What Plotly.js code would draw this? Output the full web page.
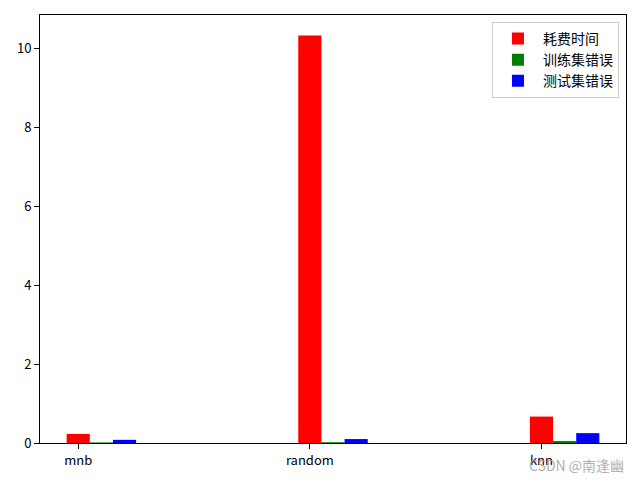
<!DOCTYPE html>
<html>
<head>
<meta charset="utf-8">
<script src="https://cdn.plot.ly/plotly-3.0.1.min.js"></script>
<style>html,body{margin:0;padding:0;background:#fff;}#chart{width:640px;height:480px;}</style>
</head>
<body>
<div id="chart"></div>
<script>
const categories = ['mnb', 'random', 'knn'];
const timeCost = [0.23, 10.33, 0.67];
const trainError = [0.015, 0.02, 0.05];
const testError = [0.08, 0.10, 0.25];
const seriesNames = ['耗费时间', '训练集错误', '测试集错误'];
const seriesColors = ['#ff0000', '#008000', '#0000ff'];
const barWidth = 0.1;

const idx = categories.map((c, i) => i);
const allSeries = [timeCost, trainError, testError];
const traces = allSeries.map((vals, s) => ({
  type: 'bar',
  x: idx.map(i => i + s * barWidth),
  y: vals,
  width: barWidth,
  name: seriesNames[s],
  marker: {color: seriesColors[s], line: {width: 0}},
  hoverinfo: 'skip'
}));

const font = 'Noto Sans CJK SC, DejaVu Sans, sans-serif';
const layout = {
  width: 640, height: 480,
  margin: {l: 40, r: 14, t: 15, b: 37},
  paper_bgcolor: '#fff', plot_bgcolor: '#fff',
  barmode: 'overlay',
  showlegend: true,
  font: {family: font, size: 13, color: '#000'},
  xaxis: {
    range: [-0.165, 2.365],
    tickvals: idx, ticktext: categories,
    ticks: 'outside', ticklen: 5, tickcolor: '#000', tickwidth: 1,
    showgrid: false, zeroline: false,
    showline: true, linecolor: '#000', linewidth: 1, mirror: true,
    tickfont: {family: font, size: 13, color: '#000'}
  },
  yaxis: {
    range: [0, 10.85],
    tickvals: [0, 2, 4, 6, 8, 10],
    ticks: 'outside', ticklen: 5, tickcolor: '#000', tickwidth: 1,
    showgrid: false, zeroline: false,
    showline: true, linecolor: '#000', linewidth: 1, mirror: true,
    tickfont: {family: font, size: 13, color: '#000'}
  },
  legend: {
    x: 0.988, y: 0.984, xanchor: 'right', yanchor: 'top',
    bgcolor: 'rgba(255,255,255,0.8)', bordercolor: '#cccccc', borderwidth: 1,
    font: {family: font, size: 14, color: '#000'},
    itemwidth: 40,
    tracegroupgap: 3
  },
  annotations: [{
    text: 'CSDN @南逢幽',
    xref: 'paper', yref: 'paper',
    x: 1.0, y: -0.052, xanchor: 'right', yanchor: 'middle',
    showarrow: false,
    font: {family: font, size: 14, color: 'rgba(160,160,160,0.85)'}
  }]
};

Plotly.newPlot('chart', traces, layout, {displayModeBar: false, staticPlot: true});
</script>
</body>
</html>
